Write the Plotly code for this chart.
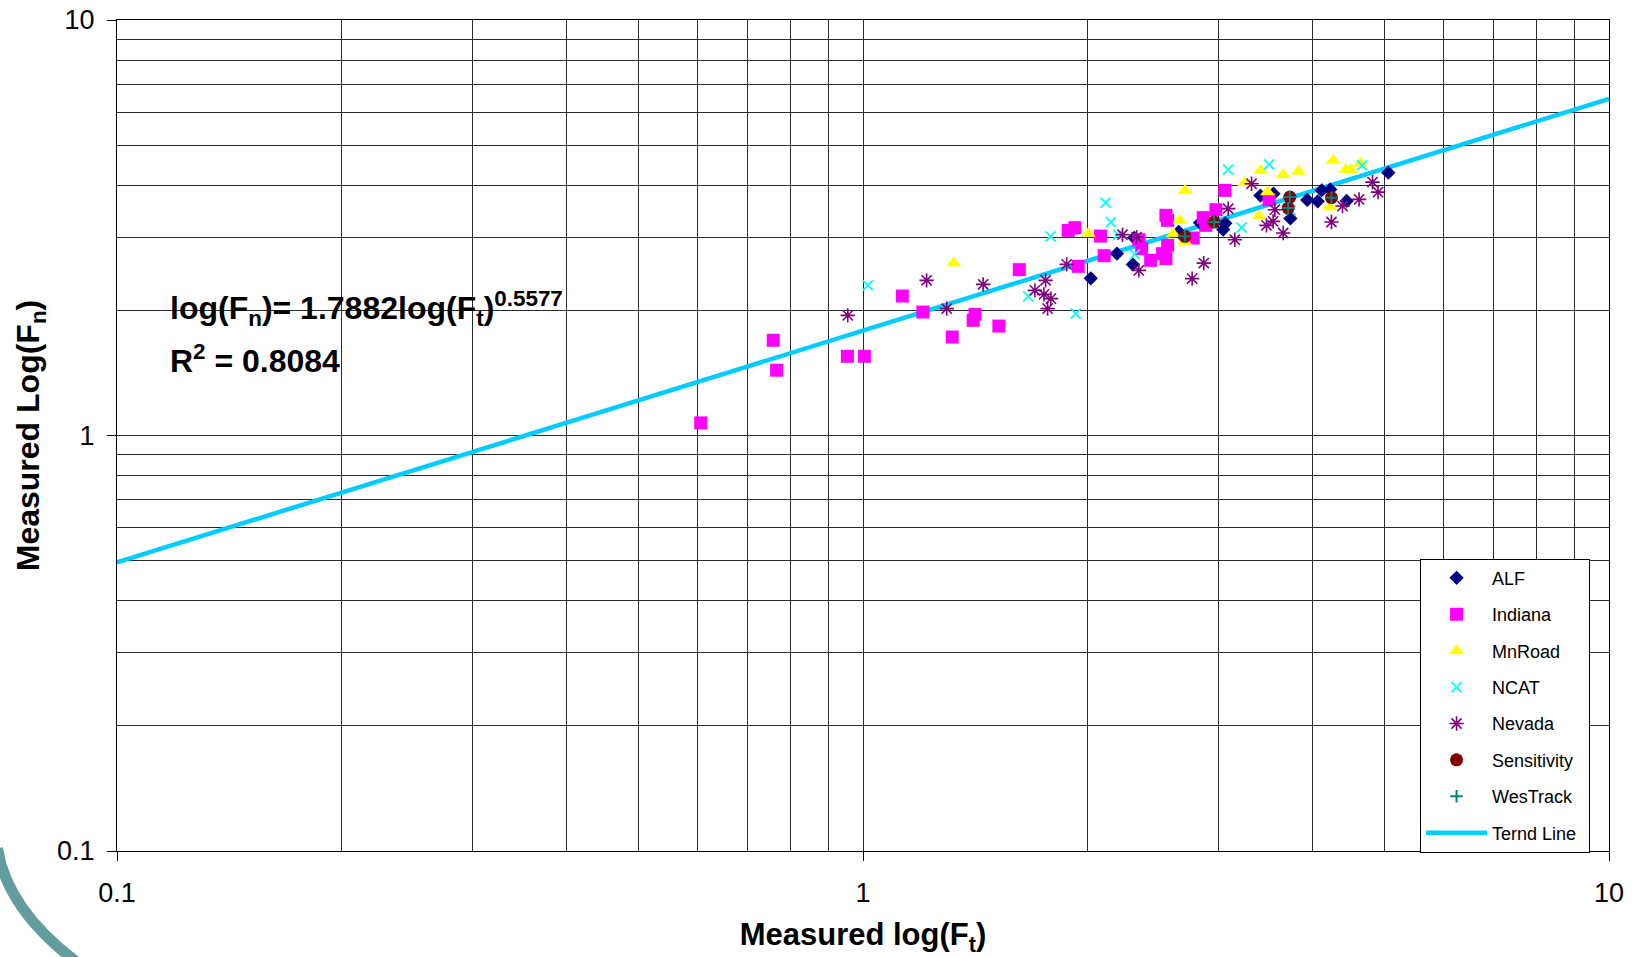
import plotly.graph_objects as go

# ---- data ----
alf_x = [2.02, 2.19, 2.31, 2.30, 2.65, 2.83, 3.06, 3.04, 3.41, 3.55, 3.74, 3.94, 4.07, 4.12, 4.23, 4.45, 5.06]
alf_y = [2.39, 2.74, 2.99, 2.58, 3.09, 3.25, 3.24, 3.13, 3.78, 3.82, 3.33, 3.69, 3.66, 3.89, 3.91, 3.67, 4.29]

indiana_x = [0.606, 0.758, 0.766, 0.953, 1.004, 1.129, 1.203, 1.317, 1.405, 1.413, 1.521, 1.620,
             1.884, 1.923, 1.943, 2.082, 2.343, 2.363, 2.105, 2.430, 2.521, 2.547, 2.560, 2.547,
             2.560, 2.771, 2.858, 2.881, 2.972, 3.056, 3.502]
indiana_y = [1.072, 1.695, 1.436, 1.551, 1.551, 2.166, 1.982, 1.726, 1.893, 1.957, 1.834, 2.507,
             3.116, 3.163, 2.553, 3.020, 2.960, 2.817, 2.709, 2.640, 2.739, 2.665, 2.869, 3.387,
             3.294, 2.987, 3.344, 3.205, 3.495, 3.890, 3.694]

mnroad_x = [1.324, 2.004, 2.659, 2.605, 2.701, 2.701, 3.250, 3.412, 3.485, 3.396, 3.658, 3.836,
            4.267, 4.224, 4.438, 4.507, 4.644]
mnroad_y = [2.600, 3.060, 3.294, 3.060, 2.921, 3.890, 4.059, 4.345, 3.853, 3.374, 4.243, 4.321,
            4.590, 3.546, 4.362, 4.362, 4.523]

ncat_x = [1.015, 1.665, 1.784, 1.928, 2.114, 2.149, 2.198, 2.314, 3.217, 3.087, 3.502, 3.746, 4.667]
ncat_y = [2.298, 2.162, 3.015, 1.965, 3.634, 3.264, 3.043, 2.729, 3.163, 4.362, 4.490, 3.481, 4.467]

nevada_x = [0.954, 1.217, 1.295, 1.449, 1.700, 1.757, 1.748, 1.786, 1.768, 1.875, 2.228, 2.327,
            2.343, 2.863, 2.762, 3.151, 3.087, 3.318, 3.474, 3.546, 3.565, 3.658, 4.246, 4.393,
            4.624, 4.819, 4.903]
nevada_y = [1.946, 2.363, 2.020, 2.311, 2.235, 2.363, 2.186, 2.135, 2.020, 2.581, 3.043, 3.003,
            2.497, 2.600, 2.386, 2.960, 3.515, 4.036, 3.205, 3.276, 3.495, 3.071, 3.264, 3.566,
            3.701, 4.073, 3.853]

sens_x = [2.701, 2.956, 3.734, 3.715, 4.246]
sens_y = [3.015, 3.264, 3.748, 3.526, 3.735]

wes_x = [2.701, 2.956, 3.734, 3.715, 4.246]
wes_y = [3.015, 3.264, 3.748, 3.526, 3.735]

trend_x = [0.1, 10]
trend_y = [0.495, 6.46]

major_ticks = [0.1, 1, 10]
major_text = ["0.1", "1", "10"]
minor_ticks = [0.2, 0.3, 0.4, 0.5, 0.6, 0.7, 0.8, 0.9, 2, 3, 4, 5, 6, 7, 8, 9]

eq_line1 = "log(F<sub>n</sub>)= 1.7882log(F<sub>t</sub>)<sup>0.5577</sup>"
eq_line2 = "R<sup>2</sup> = 0.8084"

FONT = "Arial, 'Liberation Sans', sans-serif"

fig = go.Figure()

fig.add_trace(go.Scatter(x=trend_x, y=trend_y, mode="lines", name="Ternd Line",
                         line=dict(color="#00CCFF", width=4.5), legendrank=1001,
                         legendgroup="trend"))

series = [
    ("ALF", alf_x, alf_y, dict(symbol="diamond", size=11, color="#000080")),
    ("Indiana", indiana_x, indiana_y, dict(symbol="square", size=13, color="#FF00FF")),
    ("MnRoad", mnroad_x, mnroad_y, dict(symbol="triangle-up", size=13, color="#FFFF00")),
    ("NCAT", ncat_x, ncat_y, dict(symbol="x-thin", size=10, color="#00FFFF",
                                  line=dict(color="#00FFFF", width=1.8))),
    ("Nevada", nevada_x, nevada_y, dict(symbol="asterisk", size=12, color="#800080",
                                        line=dict(color="#800080", width=1.6))),
    ("Sensitivity\u00a0\u00a0", sens_x, sens_y, dict(symbol="circle", size=13, color="#800000")),
    ("WesTrack", wes_x, wes_y, dict(symbol="cross-thin", size=9, color="#008080",
                                    line=dict(color="#008080", width=2))),
]
for name, xs, ys, mk in series:
    fig.add_trace(go.Scatter(x=xs, y=ys, mode="markers", name=name, marker=mk,
                             legendgroup=name, legendrank=1000))

axis_common = dict(
    type="log", tickmode="array", tickvals=major_ticks, ticktext=major_text,
    showgrid=True, gridcolor="#2a2a2a", gridwidth=1,
    minor=dict(tickmode="array", tickvals=minor_ticks, showgrid=True,
               gridcolor="#2a2a2a", gridwidth=1, ticks=""),
    showline=True, linecolor="black", linewidth=1, mirror=True,
    ticks="outside", ticklen=9, tickcolor="black", tickwidth=1,
    tickfont=dict(family=FONT, size=27, color="black"),
    zeroline=False, automargin=False,
)

fig.update_xaxes(range=[-1, 1], ticklabelstandoff=9,
                 title=dict(text="Measured log(F<sub>t</sub>)",
                            font=dict(family=FONT, size=31, color="black", weight="bold"),
                            standoff=23),
                 **axis_common)
fig.update_yaxes(range=[-1, 1], ticklabelstandoff=7,
                 title=dict(text="Measured Log(F<sub>n</sub>)",
                            font=dict(family=FONT, size=32, color="black", weight="bold"),
                            standoff=7),
                 **axis_common)

fig.update_layout(
    width=1632, height=957,
    margin=dict(l=117, r=23, t=20, b=106),
    paper_bgcolor="white", plot_bgcolor="white",
    font=dict(family=FONT, color="black"),
    legend=dict(x=0.9873, xanchor="right", y=-0.002, yanchor="bottom",
                bgcolor="white", bordercolor="black", borderwidth=1,
                font=dict(family=FONT, size=18, color="black"),
                itemwidth=61, tracegroupgap=10),
    shapes=[
        dict(type="rect", xref="paper", yref="paper", x0=0.0297, x1=0.3265,
             y0=0.5375, y1=0.6903, fillcolor="white", line=dict(width=0), layer="between"),
        dict(type="path", xref="paper", yref="paper",
             path="M -0.0802 0.0035 C -0.0748 -0.0591 -0.0480 -0.1132 -0.0045 -0.1613",
             line=dict(color="#639C9C", width=11), layer="above"),
    ],
    annotations=[
        dict(text=eq_line1, xref="paper", yref="paper", x=0.0345, y=0.6530,
             xanchor="left", yanchor="middle", showarrow=False,
             font=dict(family=FONT, size=32, color="black", weight="bold")),
        dict(text=eq_line2, xref="paper", yref="paper", x=0.0345, y=0.5917,
             xanchor="left", yanchor="middle", showarrow=False,
             font=dict(family=FONT, size=32, color="black", weight="bold")),
    ],
)

fig.write_html("out.html")
